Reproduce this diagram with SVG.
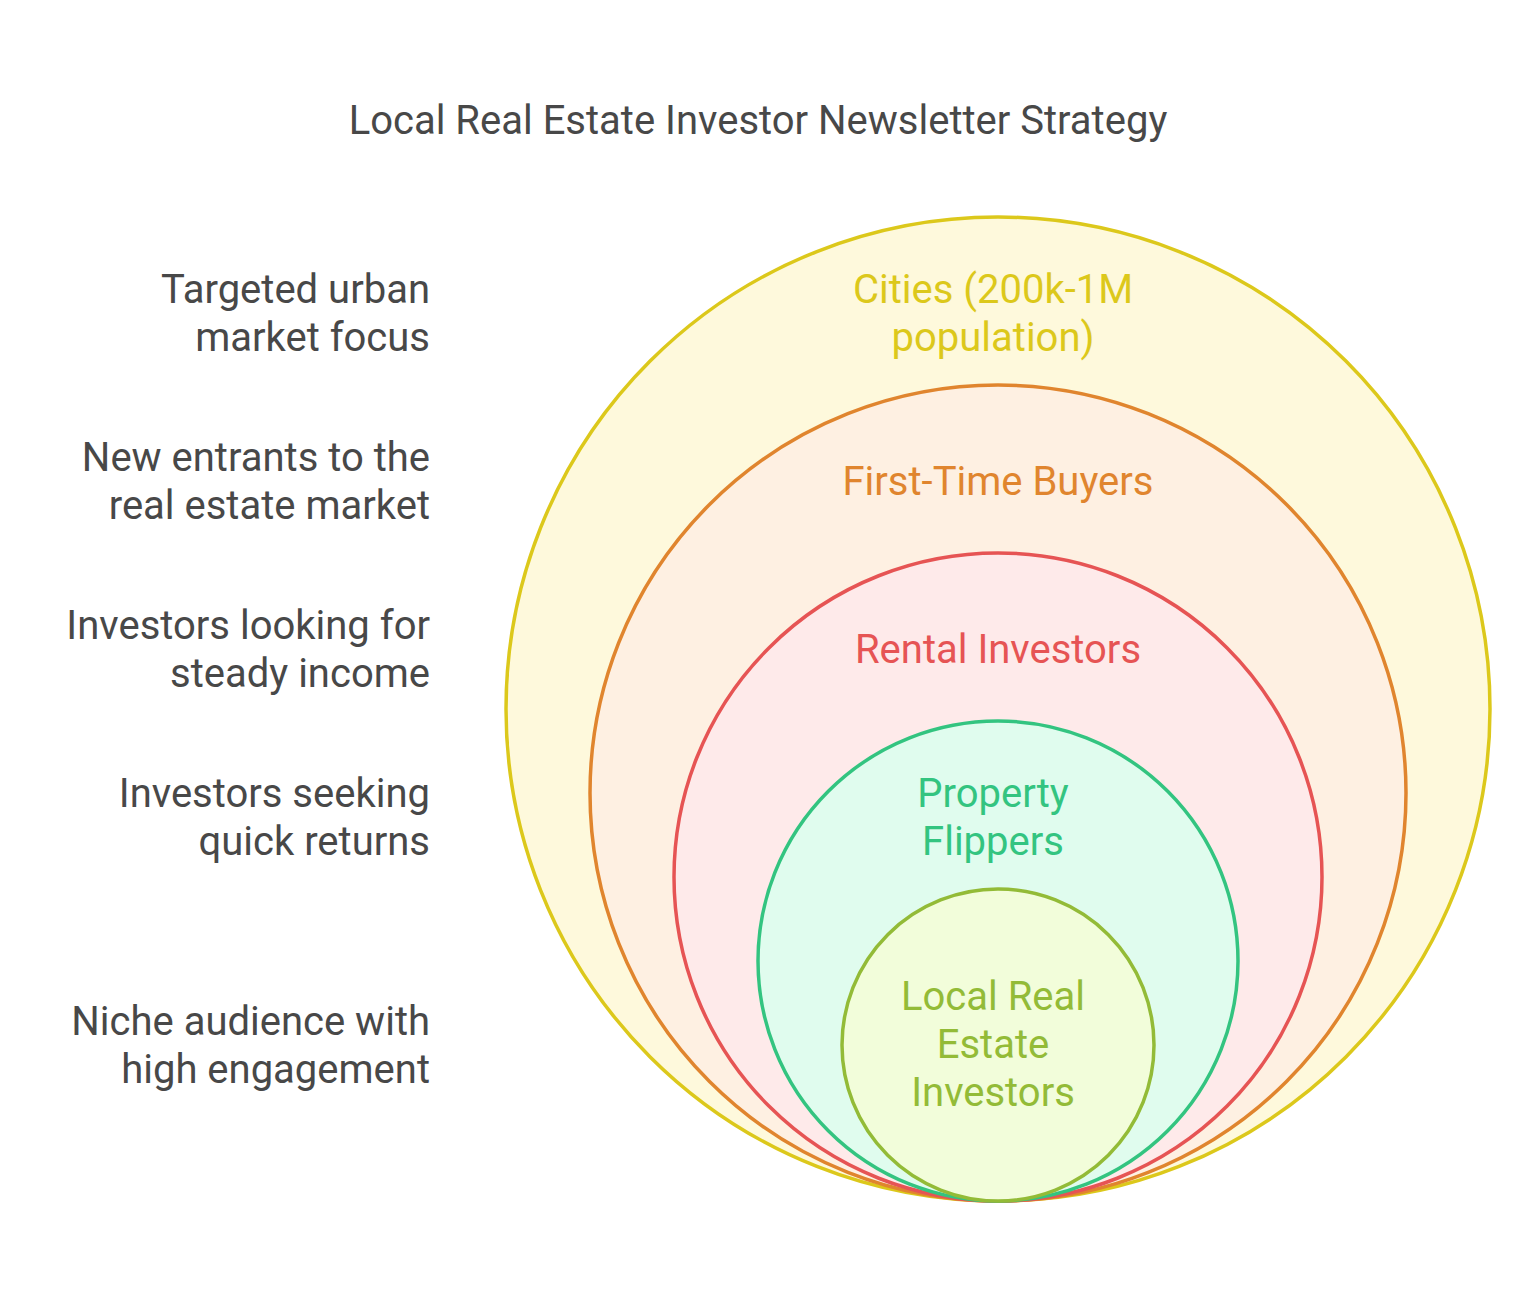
<svg xmlns="http://www.w3.org/2000/svg" width="1540" height="1301" viewBox="0 0 1540 1301">
<style>
text{font-family:Roboto,"Liberation Sans",sans-serif;font-size:40px}
.l{fill:#484848;text-anchor:end}
.c{text-anchor:middle}
circle{stroke-width:3.5}
</style>
<rect width="1540" height="1301" fill="#ffffff"/>
<text x="758" y="134" fill="#484848" text-anchor="middle">Local Real Estate Investor Newsletter Strategy</text>
<g id="cities"><circle cx="998" cy="709" r="492" fill="#fef9dc" stroke="#dcc81b"/>
<text class="c" fill="#dcc81b"><tspan x="993" y="303">Cities (200k-1M</tspan><tspan x="993" y="351">population)</tspan></text></g>
<g id="first-time"><circle cx="998" cy="793" r="408" fill="#fef0e2" stroke="#e0852e"/>
<text class="c" x="998" y="495" fill="#e0852e">First-Time Buyers</text></g>
<g id="rental"><circle cx="998" cy="877" r="324" fill="#feeaea" stroke="#e65454"/>
<text class="c" x="998" y="663" fill="#e65454">Rental Investors</text></g>
<g id="flippers"><circle cx="998" cy="961" r="240" fill="#e0fcee" stroke="#33c480"/>
<text class="c" fill="#33c480"><tspan x="993" y="807">Property</tspan><tspan x="993" y="855">Flippers</tspan></text></g>
<g id="local"><circle cx="998" cy="1045" r="156" fill="#f2fdda" stroke="#93bb37"/>
<text class="c" fill="#93bb37"><tspan x="993" y="1010">Local Real</tspan><tspan x="993" y="1058">Estate</tspan><tspan x="993" y="1106">Investors</tspan></text></g>
<g id="labels">
<text class="l"><tspan x="430" y="303">Targeted urban</tspan><tspan x="430" y="351">market focus</tspan></text>
<text class="l"><tspan x="430" y="471">New entrants to the</tspan><tspan x="430" y="519">real estate market</tspan></text>
<text class="l"><tspan x="430" y="639">Investors looking for</tspan><tspan x="430" y="687">steady income</tspan></text>
<text class="l"><tspan x="430" y="807">Investors seeking</tspan><tspan x="430" y="855">quick returns</tspan></text>
<text class="l"><tspan x="430" y="1035">Niche audience with</tspan><tspan x="430" y="1083">high engagement</tspan></text>
</g>
<g id="connectors"/>
</svg>
